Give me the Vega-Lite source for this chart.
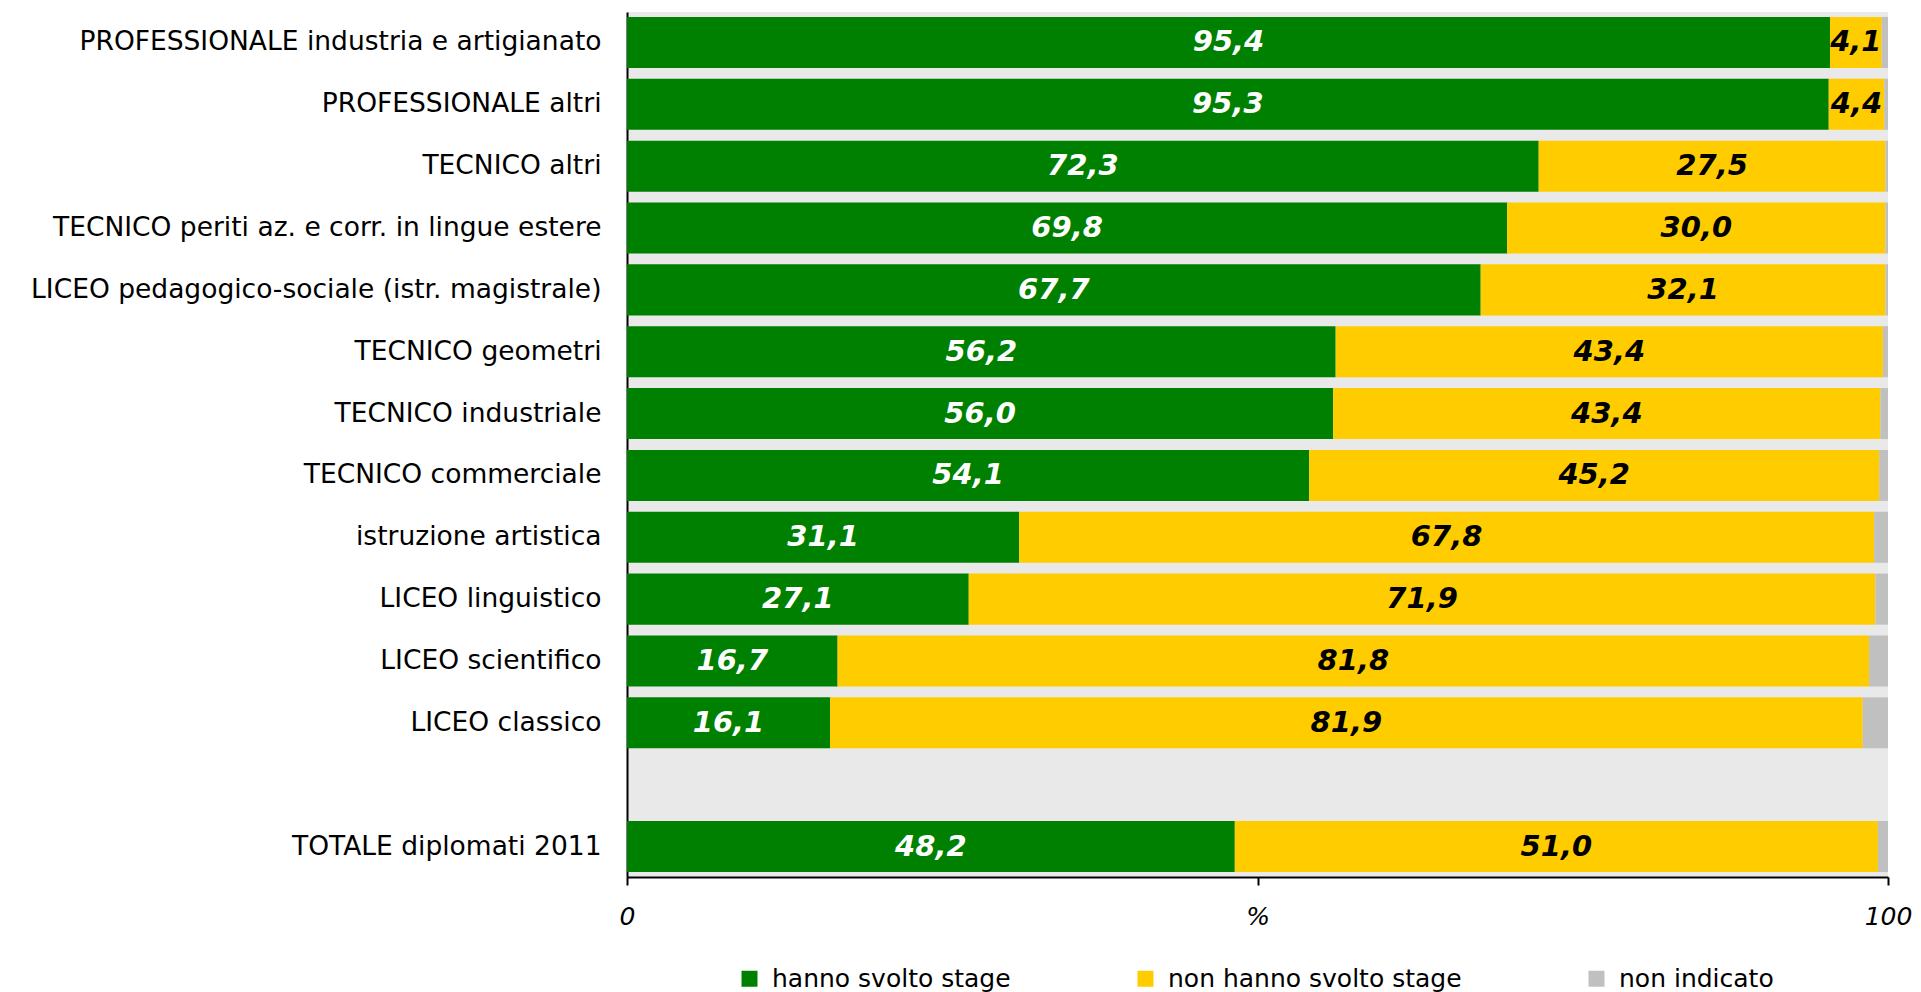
{
  "$schema": "https://vega.github.io/schema/vega-lite/v6.json",
  "width": 1261,
  "height": 865,
  "autosize": "none",
  "padding": {"left": 627, "top": 12, "right": 33, "bottom": 115},
  "background": "white",
  "config": {
    "view": {"fill": "#E9E9E9", "stroke": null},
    "font": "DejaVu Sans",
    "locale": {"number": {"decimal": ",", "thousands": ".", "grouping": [3], "currency": ["€", ""]}}
  },
  "data": {
    "values": [
      {"school": "PROFESSIONALE industria e artigianato", "cat": "hanno svolto stage", "ord": 1, "v": 95.4},
      {"school": "PROFESSIONALE industria e artigianato", "cat": "non hanno svolto stage", "ord": 2, "v": 4.1},
      {"school": "PROFESSIONALE industria e artigianato", "cat": "non indicato", "ord": 3, "v": 0.5},
      {"school": "PROFESSIONALE altri", "cat": "hanno svolto stage", "ord": 1, "v": 95.3},
      {"school": "PROFESSIONALE altri", "cat": "non hanno svolto stage", "ord": 2, "v": 4.4},
      {"school": "PROFESSIONALE altri", "cat": "non indicato", "ord": 3, "v": 0.3},
      {"school": "TECNICO altri", "cat": "hanno svolto stage", "ord": 1, "v": 72.3},
      {"school": "TECNICO altri", "cat": "non hanno svolto stage", "ord": 2, "v": 27.5},
      {"school": "TECNICO altri", "cat": "non indicato", "ord": 3, "v": 0.2},
      {"school": "TECNICO periti az. e corr. in lingue estere", "cat": "hanno svolto stage", "ord": 1, "v": 69.8},
      {"school": "TECNICO periti az. e corr. in lingue estere", "cat": "non hanno svolto stage", "ord": 2, "v": 30.0},
      {"school": "TECNICO periti az. e corr. in lingue estere", "cat": "non indicato", "ord": 3, "v": 0.2},
      {"school": "LICEO pedagogico-sociale (istr. magistrale)", "cat": "hanno svolto stage", "ord": 1, "v": 67.7},
      {"school": "LICEO pedagogico-sociale (istr. magistrale)", "cat": "non hanno svolto stage", "ord": 2, "v": 32.1},
      {"school": "LICEO pedagogico-sociale (istr. magistrale)", "cat": "non indicato", "ord": 3, "v": 0.2},
      {"school": "TECNICO geometri", "cat": "hanno svolto stage", "ord": 1, "v": 56.2},
      {"school": "TECNICO geometri", "cat": "non hanno svolto stage", "ord": 2, "v": 43.4},
      {"school": "TECNICO geometri", "cat": "non indicato", "ord": 3, "v": 0.4},
      {"school": "TECNICO industriale", "cat": "hanno svolto stage", "ord": 1, "v": 56.0},
      {"school": "TECNICO industriale", "cat": "non hanno svolto stage", "ord": 2, "v": 43.4},
      {"school": "TECNICO industriale", "cat": "non indicato", "ord": 3, "v": 0.6},
      {"school": "TECNICO commerciale", "cat": "hanno svolto stage", "ord": 1, "v": 54.1},
      {"school": "TECNICO commerciale", "cat": "non hanno svolto stage", "ord": 2, "v": 45.2},
      {"school": "TECNICO commerciale", "cat": "non indicato", "ord": 3, "v": 0.7},
      {"school": "istruzione artistica", "cat": "hanno svolto stage", "ord": 1, "v": 31.1},
      {"school": "istruzione artistica", "cat": "non hanno svolto stage", "ord": 2, "v": 67.8},
      {"school": "istruzione artistica", "cat": "non indicato", "ord": 3, "v": 1.1},
      {"school": "LICEO linguistico", "cat": "hanno svolto stage", "ord": 1, "v": 27.1},
      {"school": "LICEO linguistico", "cat": "non hanno svolto stage", "ord": 2, "v": 71.9},
      {"school": "LICEO linguistico", "cat": "non indicato", "ord": 3, "v": 1.0},
      {"school": "LICEO scientifico", "cat": "hanno svolto stage", "ord": 1, "v": 16.7},
      {"school": "LICEO scientifico", "cat": "non hanno svolto stage", "ord": 2, "v": 81.8},
      {"school": "LICEO scientifico", "cat": "non indicato", "ord": 3, "v": 1.5},
      {"school": "LICEO classico", "cat": "hanno svolto stage", "ord": 1, "v": 16.1},
      {"school": "LICEO classico", "cat": "non hanno svolto stage", "ord": 2, "v": 81.9},
      {"school": "LICEO classico", "cat": "non indicato", "ord": 3, "v": 2.0},
      {"school": "TOTALE diplomati 2011", "cat": "hanno svolto stage", "ord": 1, "v": 48.2},
      {"school": "TOTALE diplomati 2011", "cat": "non hanno svolto stage", "ord": 2, "v": 51.0},
      {"school": "TOTALE diplomati 2011", "cat": "non indicato", "ord": 3, "v": 0.8}
    ]
  },
  "transform": [
    {"stack": "v", "groupby": ["school"], "sort": [{"field": "ord", "order": "ascending"}], "as": ["v0", "v1"]},
    {"calculate": "(datum.v0 + datum.v1) / 2", "as": "mid"}
  ],
  "encoding": {
    "y": {
      "field": "school",
      "type": "nominal",
      "title": null,
      "scale": {
        "domain": [
          "PROFESSIONALE industria e artigianato",
          "PROFESSIONALE altri",
          "TECNICO altri",
          "TECNICO periti az. e corr. in lingue estere",
          "LICEO pedagogico-sociale (istr. magistrale)",
          "TECNICO geometri",
          "TECNICO industriale",
          "TECNICO commerciale",
          "istruzione artistica",
          "LICEO linguistico",
          "LICEO scientifico",
          "LICEO classico",
          " ",
          "TOTALE diplomati 2011"
        ],
        "paddingInner": 0.175,
        "paddingOuter": 0.08
      },
      "axis": {
        "domainColor": "black",
        "domainWidth": 2,
        "ticks": false,
        "labelFontSize": 26.5,
        "labelFont": "DejaVu Sans",
        "labelColor": "black",
        "labelPadding": 26,
        "labelLimit": 700
      }
    }
  },
  "layer": [
    {
      "mark": {"type": "bar"},
      "encoding": {
        "x": {
          "field": "v0",
          "type": "quantitative",
          "title": null,
          "scale": {"domain": [0, 100], "nice": false, "zero": true},
          "axis": {
            "values": [0, 50, 100],
            "grid": false,
            "domainColor": "black",
            "domainWidth": 2,
            "tickColor": "black",
            "tickWidth": 2,
            "tickSize": 8,
            "labelFontSize": 25,
            "labelFontStyle": "italic",
            "labelColor": "black",
            "labelPadding": 19,
            "labelFlush": false,
            "labelExpr": "datum.value == 50 ? '%' : datum.value == 0 ? '0' : '100'"
          }
        },
        "x2": {"field": "v1"},
        "color": {
          "field": "cat",
          "type": "nominal",
          "scale": {
            "domain": ["hanno svolto stage", "non hanno svolto stage", "non indicato"],
            "range": ["#008000", "#FFCC00", "#C0C0C0"]
          },
          "legend": {
            "orient": "none",
            "direction": "horizontal",
            "legendX": 110,
            "legendY": 954,
            "title": null,
            "symbolType": "square",
            "symbolSize": 256,
            "symbolStrokeWidth": 0,
            "symbolOpacity": 1,
            "labelFontSize": 25,
            "labelColor": "black",
            "labelOffset": 10,
            "columnPadding": 122,
            "padding": 0,
            "labelLimit": 500
          }
        }
      }
    },
    {
      "transform": [{"filter": "datum.cat != 'non indicato'"}],
      "mark": {"type": "text", "fontSize": 29, "fontWeight": "bold", "fontStyle": "italic", "align": "center", "baseline": "middle"},
      "encoding": {
        "x": {"field": "mid", "type": "quantitative"},
        "text": {"field": "v", "type": "quantitative", "format": ".1f"},
        "color": {
          "condition": {"test": "datum.cat == 'hanno svolto stage'", "value": "white"},
          "value": "black"
        }
      }
    }
  ]
}
